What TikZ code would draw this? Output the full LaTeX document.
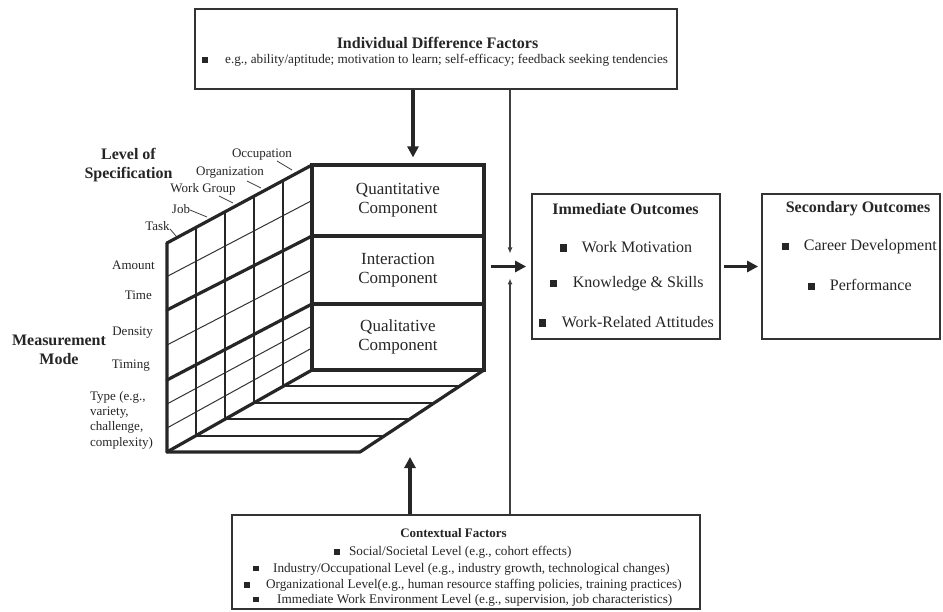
\documentclass[tikz,border=0pt]{standalone}
\usepackage{fontspec}
\setmainfont{Liberation Serif}
\usetikzlibrary{arrows.meta,calc}
\newcommand{\bul}[1][14pt]{\rule[0.05em]{0.45em}{0.45em}\hspace{#1}}
\newcommand{\fs}[2]{\fontsize{#1}{#2}\selectfont}
\begin{document}
\begin{tikzpicture}[x=1pt,y=-1pt,
  every node/.style={inner sep=0pt, text=black!85},
  box/.style={draw=black!80, line width=1.8pt},
  wall/.style={line width=3.2pt, line cap=round, line join=round, draw=black!85},
  colline/.style={line width=1.9pt, draw=black!85},
  rowline/.style={line width=1pt, draw=black!80},
  comp/.style={draw=black!85, line width=3.2pt, minimum width=172pt, align=center, font=\fs{17}{19}},
  bigarrow/.style={line width=3.5pt, draw=black!85, -{Triangle[length=11pt,width=11pt]}},
  thinarrow/.style={line width=1.1pt, draw=black!75, -{Latex[length=6pt,width=5pt]}},
  leader/.style={line width=0.8pt, draw=black!75},
  lbl/.style={font=\fs{13}{15}},
  ttl/.style={font=\fs{16}{19}\bfseries},
  item/.style={anchor=west, font=\fs{16}{19}},
  small/.style={anchor=west, font=\fs{13.2}{15}}
]
\useasboundingbox (0,0) rectangle (943,612);
\fill[white] (0,0) rectangle (943,612);

% ---------- boxes ----------
\node[box, minimum width=482pt, minimum height=80pt] (topbox) at (436,49) {};
\node[ttl] (idf) at (437.5,43) {Individual Difference Factors};
\node[small] (idfl) at (202,60) {\bul[17pt]e.g., ability/aptitude; motivation to learn; self-efficacy; feedback seeking tendencies};

\node[box, minimum width=188pt, minimum height=145pt] (imm) at (626,266.5) {};
\node[ttl] (immt) at (625.5,209) {Immediate Outcomes};
\node[item] (imm1) at (559.5,247) {\bul[15pt]Work Motivation};
\node[item] (imm2) at (549.5,284) {\bul[16pt]Knowledge \& Skills};
\node[item] (imm3) at (538.5,322) {\bul[16pt]Work-Related Attitudes};

\node[box, minimum width=178pt, minimum height=145pt] (sec) at (851,266.5) {};
\node[ttl] (sect) at (858,209) {Secondary Outcomes};
\node[item] (sec1) at (781.5,247) {\bul[15pt]Career Development};
\node[item] (sec2) at (807.5,285) {\bul[15pt]Performance};

\node[box, minimum width=468pt, minimum height=94pt] (botbox) at (466,562) {};
\node[font=\fs{13}{15}\bfseries] (ctf) at (453.5,533) {Contextual Factors};
\node[small] (ct1) at (334,552) {\bul[9pt]Social/Societal Level (e.g., cohort effects)};
\node[small] (ct2) at (253,569) {\bul[14pt]Industry/Occupational Level (e.g., industry growth, technological changes)};
\node[small] (ct3) at (244,585) {\bul[16pt]Organizational Level(e.g., human resource staffing policies, training practices)};
\node[small] (ct4) at (253,600) {\bul[18pt]Immediate Work Environment Level (e.g., supervision, job characteristics)};

% ---------- cube ----------
\coordinate (FT) at (167,243);
\coordinate (FB) at (167,452);
\coordinate (BT) at (312,165);
\coordinate (BB) at (312,370);
\coordinate (BR) at (484,370);
\coordinate (FR) at (360,452);
\coordinate (F1) at (167,310);
\coordinate (F2) at (167,380);
\coordinate (B1) at (312,236);
\coordinate (B2) at (312,304);

% thin rows on the side wall
\draw[rowline] (167,276.5) -- (312,200.5);
\draw[rowline] (167,345) -- (312,270);
\draw[rowline] (167,404) -- (312,326);
\draw[rowline] (167,428) -- (312,348);
% depth columns and floor strips
\foreach \t in {0.2,0.4,0.6,0.8}{
  \draw[colline] ($(FT)!\t!(BT)$) -- ($(FB)!\t!(BB)$);
  \draw[colline] ($(FB)!\t!(BB)$) -- ($(FR)!\t!(BR)$);
}
% thick outline
\draw[wall] (FT) -- (BT);
\draw[wall] (FT) -- (FB) -- (BB);
\draw[wall] (FB) -- (FR) -- (BR);
\draw[wall] (F1) -- (B1);
\draw[wall] (F2) -- (B2);

\node[comp, minimum height=71pt] (quant) at (398,200.5) {Quantitative\\Component};
\node[comp, minimum height=68pt] (inter) at (398,270) {Interaction\\Component};
\node[comp, minimum height=66pt] (qual) at (398,337) {Qualitative\\Component};

% ---------- cube labels ----------
\node[font=\fs{16}{19}\bfseries, align=center] (los) at (128.5,165) {Level of\\Specification};
\node[font=\fs{16}{19}\bfseries, align=center] (mm) at (59,350) {Measurement\\Mode};

\node[lbl] (occ) at (262,155) {Occupation};
\node[lbl] (org) at (230,173) {Organization};
\node[lbl] (wg) at (203,189) {Work Group};
\node[lbl] (job) at (181,209) {Job};
\node[lbl] (task) at (157.5,226) {Task};
\draw[leader] (277,161) -- (292,170);
\draw[leader] (247,181) -- (261,188);
\draw[leader] (219,196) -- (233,203);
\draw[leader] (190,210) -- (207,217);
\draw[leader] (170,229) -- (176,236);

\node[lbl, anchor=east] (amt) at (155,265) {Amount};
\node[lbl, anchor=east] (tim) at (152,295) {Time};
\node[lbl, anchor=east] (den) at (153,333) {Density};
\node[lbl, anchor=east] (tng) at (150,366) {Timing};
\node[lbl, anchor=west, align=left, font=\fs{13}{15.3}] (typ) at (90,420) {Type (e.g.,\\variety,\\challenge,\\complexity)};

% ---------- connectors ----------
\coordinate (xA) at (413,0);
\coordinate (xB) at (510,0);
\coordinate (xC) at (410,0);
\draw[bigarrow, shorten >=6pt] (topbox.south -| xA) -- (quant.north -| xA);
\draw[bigarrow, shorten <=5pt, shorten >=5pt] (imm.west -| inter.east) -- (imm.west);
\draw[bigarrow, shorten <=3pt, shorten >=3pt] (imm.east) -- (sec.west);
\draw[bigarrow, shorten >=5pt] (botbox.north -| xC) -- (FB -| xC);
\draw[thinarrow] (topbox.south -| xB) -- ($(imm.west -| xB)+(0,-13)$);
\draw[thinarrow] (botbox.north -| xB) -- ($(imm.west -| xB)+(0,12)$);
\end{tikzpicture}
\end{document}
